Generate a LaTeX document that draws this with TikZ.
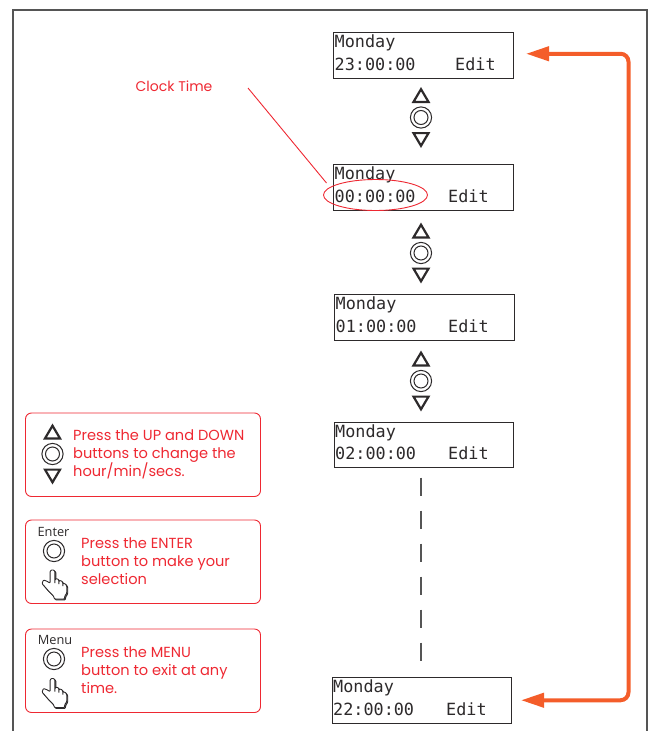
\documentclass[tikz,border=0pt]{standalone}
\usepackage{fontspec}
\setmainfont{Poppins}
\setsansfont{Open Sans}
\setmonofont{DejaVu Sans Mono}
\usepackage{tikz}
\usetikzlibrary{positioning, arrows.meta, shapes.geometric, calc}
\definecolor{NoteRed}{RGB}{238,40,50}
\definecolor{FlowOrange}{RGB}{244,93,42}
\definecolor{InkColor}{RGB}{45,42,43}
\definecolor{FrameColor}{RGB}{85,85,85}
\tikzstyle{lcdbox} = [draw=InkColor, line width=1pt, fill=white, anchor=north west, minimum width=179.5pt, minimum height=45.5pt, inner sep=0pt, outer sep=0pt]
\tikzstyle{lcdtext} = [anchor=base west, inner sep=0pt, text=InkColor, font=\ttfamily\fontsize{16.8}{20}\selectfont]
\tikzstyle{notebox} = [draw=NoteRed, line width=0.9pt, rounded corners=6pt, anchor=north west, minimum width=235pt, minimum height=83.5pt, inner sep=0pt, outer sep=0pt]
\tikzstyle{notetext} = [anchor=north west, inner sep=0pt, text=NoteRed, align=left, font=\fontsize{14.6}{18}\selectfont]
\tikzstyle{keylabel} = [inner sep=0pt, text=InkColor, font=\sffamily\fontsize{12.8}{14}\selectfont]
\tikzstyle{flowarrow} = [line width=4pt, FlowOrange, rounded corners=8pt, shorten <=9.5pt, shorten >=13pt, {Triangle[length=23pt,width=14pt]}-{Triangle[length=23pt,width=14pt]}]
\tikzset{
  ringkey/.pic={
    \draw[InkColor, line width=1pt] (0,0) circle (10.6);
    \draw[InkColor, line width=1pt] (0,0) circle (7);
  },
  updownkey/.pic={
    \pic {ringkey};
    \draw[InkColor, line width=2.2pt] (-7.5,-15.6) -- (7.5,-15.6) -- (0,-28.3) -- cycle;
    \draw[InkColor, line width=2.2pt] (-7.5,15.6) -- (7.5,15.6) -- (0,28.3) -- cycle;
  },
  handkey/.pic={
    \foreach \ox/\oy/\hue in {0.9/0.9/gray,0/0/white} {
      \draw[shift={(\ox,\oy)}, draw=InkColor, fill=\hue, line width=0.9pt, rounded corners=0.8pt]
        (-2.4,13) -- (-2.4,1) -- (0,-0.4) -- (2.4,1) -- (2.4,14) -- (2.4,9.5) -- (4.5,8.5) -- (6.3,10)
        -- (6.3,15) -- (6.3,11) -- (8.5,10.5) -- (10.3,12.5) -- (10.3,17) -- (10.3,13.5) -- (12.5,13.5)
        -- (14.3,16) -- (14.3,23) -- (12.3,26) -- (12,29) -- (2,29) -- (1,26) -- (-4,21) -- (-10.5,13.5)
        -- (-9,10) -- (-6.5,10.8) -- cycle;
    }
  }
}
\begin{document}
\begin{tikzpicture}[x=1pt,y=-1pt]
  \useasboundingbox (0,0) rectangle (654,731);

  % Frame
  \draw[FrameColor, line width=1.2pt] (13,731) -- (13,10) -- (647,10) -- (647,731);

  % Displays
  \foreach \nm/\xa/\ya/\tm/\ed in {box1/333.5/32.5/23:00:00/121.5, box2/333.5/164.5/00:00:00/114.5, box3/334.5/294.5/01:00:00/113.5, box4/334/422/02:00:00/114, box5/332/677.5/22:00:00/114} {
    \node[lcdbox] (\nm) at (\xa,\ya) {};
    \node[lcdtext] (\nm day) at ($(\nm.north west)+(1,15)$) {Monday};
    \node[lcdtext] (\nm time) at ($(\nm.north west)+(1,37.5)$) {\tm};
    \node[lcdtext] (\nm edit) at ($(\nm.north west)+(\ed,37.5)$) {Edit};
  }

  % Keys between the displays
  \pic at (421,117.5) {updownkey};
  \pic at (421,253) {updownkey};
  \pic at (421,381) {updownkey};

  % Dashes down to the last display
  \coordinate (dashx) at (421,0);
  \draw[FrameColor, line width=1.2pt, dash pattern=on 18pt off 15pt, shorten <=10pt, shorten >=13pt] (box4.south -| dashx) -- (box5.north -| dashx);

  % Return arrow
  \coordinate (railx) at (628.5,0);
  \coordinate (toptarget) at ([yshift=1.5pt]box1.east);
  \draw[flowarrow] (box5.east) -- (box5.east -| railx) -- (toptarget -| railx) -- (toptarget);

  % Clock time callout
  \node[draw=NoteRed, line width=0.9pt, ellipse, minimum width=104pt, minimum height=31pt, inner sep=0pt] (timeoval) at (375.5,195) {};
  \node[inner sep=0pt, text=NoteRed, font=\fontsize{14}{18}\selectfont] (clocklabel) at (174,86) {Clock Time};
  \coordinate (leadtop) at (248,88);
  \coordinate (leadend) at (326.5,183);
  \draw[NoteRed, line width=0.9pt] (leadtop) -- (leadend);

  % Notes
  \node[notebox] (note1) at (25.5,413) {};
  \pic at (52.5,454) {updownkey};
  \node[notetext] (note1text) at (73,429.5) {Press the UP and DOWN\\buttons to change the\\hour/min/secs.};

  \node[notebox] (note2) at (25.5,520) {};
  \node[keylabel] (enterlabel) at (53.5,532) {Enter};
  \pic at (54,551) {ringkey};
  \pic at (52.5,570) {handkey};
  \node[notetext] (note2text) at (81,537.5) {Press the ENTER\\button to make your\\selection};

  \node[notebox] (note3) at (25.5,629) {};
  \node[keylabel] (menulabel) at (55,640) {Menu};
  \pic at (54,659) {ringkey};
  \pic at (52.5,678.5) {handkey};
  \node[notetext] (note3text) at (81,646.5) {Press the MENU\\button to exit at any\\time.};
\end{tikzpicture}
\end{document}
